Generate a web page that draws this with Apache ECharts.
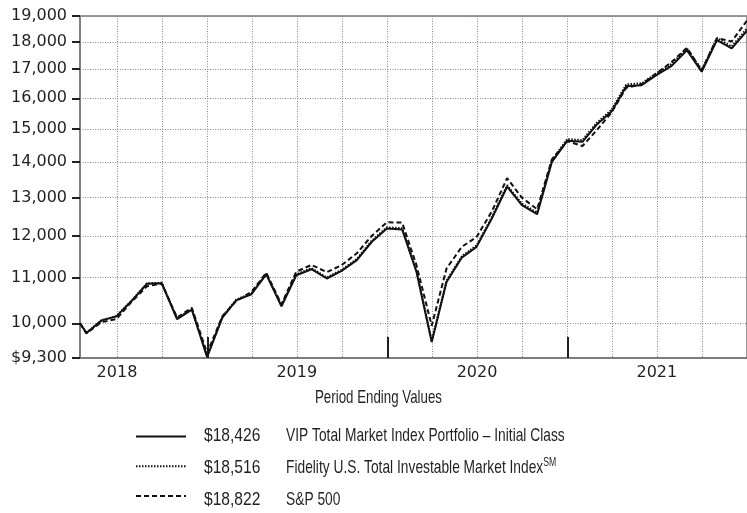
<!DOCTYPE html>
<html>
<head>
<meta charset="utf-8">
<script src="https://cdn.jsdelivr.net/npm/echarts@6/dist/echarts.min.js"></script>
<style>
  html, body { margin: 0; padding: 0; background: #fff; }
  #chart { width: 747px; height: 513px; }
</style>
</head>
<body>
<div id="chart"></div>
<script>
// month-end dates (first point is the start date)
const dates = [
  '2018-04-17', '2018-04-30', '2018-05-31', '2018-06-30', '2018-07-31', '2018-08-31', '2018-09-30',
  '2018-10-31', '2018-11-30', '2018-12-31',
  '2019-01-31', '2019-02-28', '2019-03-31', '2019-04-30', '2019-05-31', '2019-06-30',
  '2019-07-31', '2019-08-31', '2019-09-30', '2019-10-31', '2019-11-30', '2019-12-31',
  '2020-01-31', '2020-02-29', '2020-03-31', '2020-04-30', '2020-05-31', '2020-06-30',
  '2020-07-31', '2020-08-31', '2020-09-30', '2020-10-31', '2020-11-30', '2020-12-31',
  '2021-01-31', '2021-02-28', '2021-03-31', '2021-04-30', '2021-05-31', '2021-06-30',
  '2021-07-31', '2021-08-31', '2021-09-30', '2021-10-31', '2021-11-30', '2021-12-31'
]

const vipValues = [
  10000, 9800, 10060, 10145, 10480, 10860, 10870, 10085, 10290, 9320,
  10120, 10490, 10625, 11075, 10360, 11055, 11195, 10980, 11155, 11410, 11850, 12190,
  12165, 11135, 9615, 10900, 11470, 11730, 12445, 13300, 12800, 12560, 14010, 14640,
  14610, 15130, 15560, 16410, 16445, 16790, 17120, 17690, 16910, 18065, 17755, 18426
]

const fidelityValues = [
  10000, 9802, 10065, 10152, 10488, 10870, 10882, 10096, 10302, 9330,
  10135, 10507, 10643, 11096, 10382, 11078, 11220, 11004, 11180, 11437, 11879, 12221,
  12197, 11165, 9641, 10931, 11504, 11765, 12484, 13342, 12841, 12602, 14058, 14691,
  14663, 15186, 15618, 16471, 16507, 16855, 17188, 17760, 16977, 18138, 17828, 18516
]

const sp500Values = [
  10000, 9790, 10025, 10087, 10462, 10803, 10865, 10122, 10328, 9395,
  10148, 10474, 10677, 11110, 10404, 11137, 11297, 11125, 11290, 11575, 12000, 12350,
  12340, 11290, 9950, 11210, 11730, 11975, 12630, 13540, 13000, 12690, 14085, 14626,
  14480, 14950, 15529, 16357, 16471, 16855, 17256, 17780, 16954, 18142, 18016, 18822
]

const seriesNames = [
  'VIP Total Market Index Portfolio \u2013 Initial Class',
  'Fidelity U.S. Total Investable Market Index',
  'S&P 500'
]
const endingValues = ['$18,426', '$18,516', '$18,822']
const nameSuffix = ['', 'SM', '']

const yTicks = [9300, 10000, 11000, 12000, 13000, 14000, 15000, 16000, 17000, 18000, 19000]
const quarterStarts = [
  '2018-07-01', '2018-10-01', '2019-01-01', '2019-04-01', '2019-07-01', '2019-10-01',
  '2020-01-01', '2020-04-01', '2020-07-01', '2020-10-01', '2021-01-01', '2021-04-01',
  '2021-07-01', '2021-10-01'
]
const yearStarts = ['2019-01-01', '2020-01-01', '2021-01-01']
const yearMids = ['2018-07-01', '2019-07-01', '2020-07-01', '2021-07-01']

const ts = s => { const [y, m, d] = s.split('-').map(Number); return Date.UTC(y, m - 1, d) }
const pairs = vals => dates.map((d, i) => [ts(d), vals[i]])

const axisFont = 'DejaVu Sans'
const legendFont = "'Liberation Sans', Arial, sans-serif"
const ink = '#231f20'

const chart = echarts.init(document.getElementById('chart'), null, { renderer: 'canvas' })

const baseLine = { type: 'line', xAxisIndex: 0, yAxisIndex: 0, symbol: 'none', silent: true, animation: false }
const xMin = ts(dates[0]), xMax = ts(dates[dates.length - 1])

// legend rows (text centres) and the condensed text look of the original
const rowY = [436, 468, 500]
const legendTexts = []
seriesNames.forEach((name, i) => {
  legendTexts.push({
    type: 'text', x: 204, y: rowY[i], scaleX: 0.82, silent: true,
    style: { text: endingValues[i], font: `19px ${legendFont}`, fill: ink, verticalAlign: 'middle' }
  })
  legendTexts.push({
    type: 'text', x: 286, y: rowY[i], scaleX: 0.725, silent: true,
    style: {
      text: `{n|${name}}` + (nameSuffix[i] ? `{sup|${nameSuffix[i]}}` : ''),
      verticalAlign: 'middle',
      rich: {
        n: { fontFamily: legendFont, fontSize: 19, lineHeight: 22, fill: ink },
        sup: { fontFamily: legendFont, fontSize: 12, lineHeight: 22, verticalAlign: 'top', fill: ink, padding: [0, 0, 8, 0] }
      }
    }
  })
})

chart.setOption({
  animation: false,
  graphic: [
    {
      type: 'text', x: 315, y: 398, scaleX: 0.70, silent: true,
      style: { text: 'Period Ending Values', font: `19px ${legendFont}`, fill: ink, verticalAlign: 'middle' }
    },
    ...legendTexts
  ],
  legend: {
    orient: 'vertical',
    left: 135, top: 431, padding: 0,
    itemWidth: 50, itemHeight: 14, itemGap: 18.5,
    data: seriesNames,
    selectedMode: false,
    itemStyle: { opacity: 0 },
    formatter: () => '',
    textStyle: { fontSize: 10, lineHeight: 14 }
  },
  grid: {
    left: 80, right: -7, top: 16, bottom: 155,
    show: true, borderColor: '#777', borderWidth: 1.5
  },
  xAxis: [
    {
      type: 'value',
      min: xMin, max: xMax,
      position: 'bottom',
      axisLine: { show: false },
      axisTick: { show: false, customValues: quarterStarts.map(ts) },
      axisLabel: { show: false },
      splitLine: { show: true, lineStyle: { color: '#888', width: 1, type: [1, 1.5] } }
    },
    {
      type: 'value',
      min: xMin, max: xMax,
      position: 'bottom',
      axisLine: { show: true, lineStyle: { color: '#777', width: 1.5 } },
      axisTick: { show: true, inside: true, length: 21, customValues: yearStarts.map(ts), lineStyle: { color: ink, width: 2 } },
      axisLabel: {
        show: true, customValues: yearMids.map(ts), margin: 7,
        fontFamily: axisFont, fontSize: 16, color: ink,
        formatter: v => String(new Date(v).getUTCFullYear())
      },
      splitLine: { show: false }
    }
  ],
  yAxis: {
    type: 'log',
    min: yTicks[0], max: yTicks[yTicks.length - 1],
    axisLine: { show: true, lineStyle: { color: '#777', width: 1.5 } },
    axisTick: { show: true, length: 8, customValues: yTicks, lineStyle: { color: ink, width: 2 } },
    axisLabel: {
      customValues: yTicks, margin: 13,
      fontFamily: axisFont, fontSize: 16, color: ink,
      formatter: v => (v === yTicks[0] ? '$' : '') + Number(v).toLocaleString('en-US')
    },
    splitLine: { show: true, lineStyle: { color: '#888', width: 1, type: [1, 1.5] } }
  },
  series: [
    { ...baseLine, name: seriesNames[2], z: 2, data: pairs(sp500Values),
      lineStyle: { color: '#111', width: 2, type: [5, 3] } },
    { ...baseLine, name: seriesNames[1], z: 3, data: pairs(fidelityValues),
      lineStyle: { color: '#111', width: 2, type: [1.5, 1.5] } },
    { ...baseLine, name: seriesNames[0], z: 4, data: pairs(vipValues),
      lineStyle: { color: '#111', width: 2, type: 'solid' } }
  ]
})
</script>
</body>
</html>
